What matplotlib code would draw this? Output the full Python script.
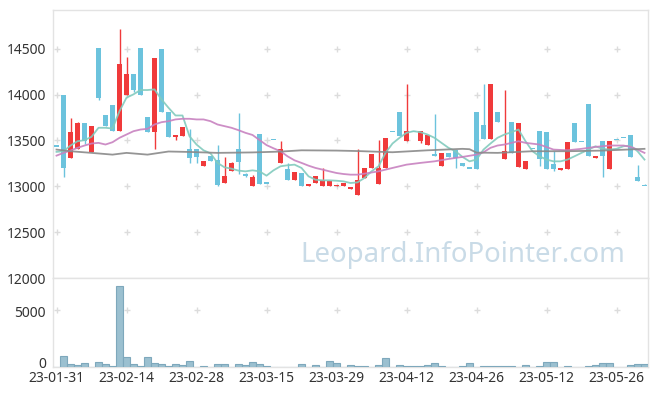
import numpy as np
import matplotlib
matplotlib.use("Agg")
import matplotlib.pyplot as plt
from matplotlib.transforms import ScaledTranslation

# ---------------- data ----------------
dates = [
    "23-01-31",
    "23-02-01", "23-02-02", "23-02-03", "23-02-06", "23-02-07", "23-02-08", "23-02-09", "23-02-10",
    "23-02-13", "23-02-14", "23-02-15", "23-02-16", "23-02-17", "23-02-20", "23-02-21", "23-02-22",
    "23-02-23", "23-02-24", "23-02-27", "23-02-28",
    "23-03-02", "23-03-03", "23-03-06", "23-03-07", "23-03-08", "23-03-09", "23-03-10", "23-03-13",
    "23-03-14", "23-03-15", "23-03-16", "23-03-17", "23-03-20", "23-03-21", "23-03-22", "23-03-23",
    "23-03-24", "23-03-27", "23-03-28", "23-03-29", "23-03-30", "23-03-31",
    "23-04-03", "23-04-04", "23-04-05", "23-04-06", "23-04-07", "23-04-10", "23-04-11", "23-04-12",
    "23-04-13", "23-04-14", "23-04-17", "23-04-18", "23-04-19", "23-04-20", "23-04-21", "23-04-24",
    "23-04-25", "23-04-26", "23-04-27", "23-04-28",
    "23-05-02", "23-05-03", "23-05-04", "23-05-08", "23-05-09", "23-05-10", "23-05-11", "23-05-12",
    "23-05-15", "23-05-16", "23-05-17", "23-05-18", "23-05-19", "23-05-22", "23-05-23", "23-05-24",
    "23-05-25", "23-05-26", "23-05-30", "23-05-31",
    "23-06-01", "23-06-02",
]

opens = [13440, 14000, 13310, 13410, 13690, 13370, 14510, 13780, 13890, 13600,
         14000, 14220, 14510, 13760, 13590, 14500, 13810, 13540, 13547, 13412,
         13412, 13219, 13335, 13284, 13033, 13164, 13412, 13130, 13008, 13575,
         13037, 13510, 13256, 13193, 13073, 13146, 13008, 13037, 13008, 13008,
         13000, 13008, 12971, 12902, 13095, 13204, 13030, 13197, 13600, 13805,
         13499, 13595, 13499, 13456, 13357, 13219, 13364, 13401, 13256, 13200,
         13810, 13663, 13521, 13808, 13303, 13703, 13208, 13193, 13410, 13608,
         13597, 13248, 13175, 13193, 13685, 13485, 13892, 13306, 13499, 13193,
         13510, 13529, 13565, 13103, 13011]
closes = [13440, 13200, 13590, 13690, 13490, 13660, 13960, 13655, 13600, 14330,
          14220, 14050, 14000, 13590, 14400, 13810, 13540, 13555, 13645, 13310,
          13317, 13273, 13273, 13011, 13117, 13256, 13262, 13110, 13106, 13030,
          13037, 13510, 13412, 13066, 13157, 13008, 13030, 13117, 13066, 13062,
          13019, 13037, 12989, 13073, 13204, 13357, 13204, 13529, 13600, 13546,
          13608, 13595, 13601, 13557, 13335, 13364, 13317, 13310, 13219, 13200,
          13193, 13521, 14111, 13699, 13390, 13364, 13685, 13281, 13410, 13303,
          13193, 13193, 13200, 13481, 13481, 13485, 13328, 13335, 13328, 13499,
          13510, 13529, 13317, 13062, 13011]
highs = [13440, 14000, 13740, 13700, 13690, 13660, 14510, 13780, 13890, 14710,
         14410, 14220, 14510, 13760, 14400, 14500, 13810, 13555, 13645, 13620,
         13412, 13273, 13335, 13456, 13317, 13270, 13802, 13150, 13128, 13575,
         13037, 13510, 13490, 13256, 13157, 13146, 13030, 13117, 13200, 13062,
         13019, 13037, 12995, 13412, 13204, 13357, 13510, 13529, 13600, 13805,
         14110, 13595, 13601, 13557, 13790, 13364, 13364, 13401, 13256, 13200,
         13810, 14110, 14111, 13808, 14050, 13703, 13685, 13281, 13410, 13608,
         13597, 13390, 13200, 13481, 13685, 13485, 13892, 13335, 13499, 13499,
         13510, 13529, 13565, 13237, 13027]
lows = [13440, 13100, 13310, 13410, 13467, 13370, 13940, 13655, 13600, 13600,
        14000, 14030, 14000, 13590, 13410, 13810, 13540, 13510, 13547, 13256,
        13256, 13219, 13273, 13000, 13033, 13164, 13139, 13100, 13008, 13030,
        13037, 13510, 13256, 13066, 13073, 13008, 13008, 13037, 13008, 13008,
        13000, 13008, 12971, 12902, 13095, 13204, 13030, 13197, 13600, 13546,
        13499, 13595, 13470, 13456, 13335, 13219, 13317, 13200, 13219, 13200,
        13193, 13521, 13521, 13699, 13303, 13364, 13208, 13193, 13410, 13226,
        13193, 13164, 13175, 13193, 13481, 13485, 13328, 13306, 13103, 13193,
        13510, 13529, 13317, 13062, 13011]

volumes = [0, 176, 9, 5, 18, 0, 28, 8, 1, 10000,
           144, 8, 1, 144, 18, 8, 1, 8, 5, 50,
           0, 1, 0, 8, 8, 0, 8, 5, 28, 8,
           1, 0, 0, 0, 0, 8, 0, 5, 0, 50,
           18, 0, 5, 1, 1, 0, 5, 116, 0, 5,
           1, 1, 1, 5, 18, 1, 0, 0, 1, 18,
           0, 1, 1, 1, 1, 1, 0, 5, 0, 1,
           28, 28, 0, 1, 0, 0, 1, 5, 18, 18,
           0, 0, 5, 8, 8]

ma5 = [13376, 13383, 13445, 13492, 13503, 13540, 13638, 13638, 13630, 13819,
       13966, 14002, 14049, 14049, 14056, 13947, 13856, 13772, 13772, 13546,
       13456, 13393, 13360, 13256, 13208, 13193, 13172, 13164, 13175, 13164,
       13117, 13175, 13219, 13230, 13237, 13201, 13110, 13073, 13066, 13066,
       13062, 13055, 13037, 13044, 13092, 13164, 13219, 13365, 13467, 13529,
       13583, 13601, 13590, 13565, 13529, 13474, 13420, 13383, 13321, 13273,
       13292, 13401, 13467, 13529, 13565, 13590, 13619, 13492, 13383, 13328,
       13292, 13273, 13273, 13292, 13328, 13365, 13401, 13437, 13409, 13401,
       13409, 13437, 13445, 13383, 13292]

ma20_idx = [0, 1, 2, 3, 4, 5, 6, 7, 8, 9, 10, 11, 12, 13, 14, 15, 16, 17, 18, 19,
            20, 21, 22, 23, 24, 25, 26, 27, 28, 29, 30, 31, 32, 33, 34, 35, 36, 37,
            38, 39, 40, 41, 42, 43, 44, 46, 48, 50, 52, 54, 56, 58, 60, 61, 62, 63,
            64, 66, 67, 69, 71, 73, 75, 77, 79, 81, 82, 83, 84]
ma20_val = [13335, 13365, 13390, 13420, 13445, 13467, 13474, 13456, 13481, 13529,
            13565, 13601, 13619, 13627, 13674, 13699, 13710, 13729, 13736, 13736,
            13729, 13729, 13710, 13674, 13656, 13638, 13612, 13583, 13560, 13505,
            13450, 13415, 13383, 13328, 13284, 13256, 13226, 13201, 13183, 13164,
            13146, 13135, 13128, 13128, 13139, 13164, 13201, 13237, 13256, 13273,
            13299, 13321, 13346, 13372, 13420, 13445, 13456, 13492, 13474, 13456,
            13401, 13393, 13409, 13430, 13445, 13445, 13430, 13401, 13365]

ma60_idx = [0, 2, 5, 8, 10, 13, 16, 19, 23, 28, 32, 35, 40, 43, 48, 53, 58, 59,
            60, 63, 68, 73, 78, 84]
ma60_val = [13401, 13383, 13365, 13346, 13365, 13346, 13380, 13375, 13365, 13370,
            13379, 13393, 13390, 13385, 13372, 13393, 13409, 13405, 13368, 13365,
            13383, 13383, 13390, 13409]

tick_idx = [0, 10, 20, 30, 40, 50, 60, 70, 80]
price_ticks = [12000, 12500, 13000, 13500, 14000, 14500]
vol_ticks = [0, 5000]
watermark = "Leopard.InfoPointer.com"

# ---------------- style ----------------
RED = "#F03A3B"
BLUE = "#6CC3DD"
GRID = "#dcdcdc"
SPINE = "#e3e3e3"
TXT = "#333333"
FONT = ["Noto Sans", "DejaVu Sans"]
plt.rcParams["font.family"] = FONT

W, H = 657, 396
fig = plt.figure(figsize=(W / 100, H / 100), dpi=100)
L, R = 53, 648
T1, B1, B2 = 10, 278.3, 366.7
ax = fig.add_axes([L / W, 1 - B1 / H, (R - L) / W, (B1 - T1) / H])
axv = fig.add_axes([L / W, 1 - B2 / H, (R - L) / W, (B2 - B1) / H])

n = len(dates)
x = np.arange(n)
o = np.array(opens, float)
c = np.array(closes, float)
hi = np.array(highs, float)
lo = np.array(lows, float)
cols = [RED if cc > oo else BLUE for oo, cc in zip(o, c)]

# wicks
ax.vlines(x, lo, hi, colors=cols, linewidth=1.0, zorder=2)
# bodies
minh = 12.0
body = np.abs(c - o)
h = np.maximum(body, minh)
bottom = np.minimum(o, c) - (h - body) / 2
ax.bar(x, h, bottom=bottom, width=0.68, color=cols, linewidth=0, zorder=3)

# moving averages
ax.plot(x, ma5, color="#82CBBE", lw=1.3, alpha=0.9, zorder=4)
ax.plot(ma20_idx, ma20_val, color="#C882C0", lw=1.3, alpha=0.9, zorder=4)
ax.plot(ma60_idx, ma60_val, color="#8a8a8a", lw=1.3, alpha=0.9, zorder=4)

ax.set_xlim(-0.5, n - 0.5)
ax.set_ylim(12000, 14920)
ax.set_yticks(price_ticks)
ax.set_yticklabels([str(t) for t in price_ticks])
ax.set_xticks([])
for yv in price_ticks[1:]:
    ax.plot(tick_idx, [yv] * len(tick_idx), ls="none", marker="+", ms=5,
            mew=1, color=GRID, zorder=1)

# volume
axv.set_yscale("function", functions=(lambda v: np.sqrt(np.clip(v, 0, None)),
                                      lambda v: np.square(v)))
axv.bar(x, volumes, width=0.95, color="#9BC0D0", edgecolor="#7EA8BC",
        linewidth=0.8, zorder=3)
axv.set_xlim(-0.5, n - 0.5)
axv.set_ylim(0, 12000)
axv.set_yticks(vol_ticks)
axv.set_yticklabels([str(t) for t in vol_ticks])
axv.set_xticks(tick_idx)
axv.set_xticklabels([dates[i] for i in tick_idx])
axv.plot(tick_idx, [5000] * len(tick_idx), ls="none", marker="+", ms=5,
         mew=1, color=GRID, zorder=1)

for a in (ax, axv):
    a.tick_params(length=0, labelsize=10, colors=TXT)
    a.tick_params(axis="y", pad=5)
    a.tick_params(axis="x", pad=3)
    for s in a.spines.values():
        s.set_color(SPINE)
        s.set_linewidth(1.0)
    a.set_facecolor("white")

# nudge the volume-axis labels as in the reference ("0" sits a little high)
vlabels = axv.get_yticklabels()
shifts = [4, -2]
for lbl, dy in zip(vlabels, shifts):
    lbl.set_transform(lbl.get_transform() +
                      ScaledTranslation(0, dy / 100, fig.dpi_scale_trans))

# watermark sized to its span in the reference
wm = fig.text(625 / W, 1 - 262.3 / H, watermark, ha="right", va="baseline",
              fontsize=22, color="#C9DBE7", family=FONT, zorder=0)
fig.canvas.draw()
bb = wm.get_window_extent()
wm.set_fontsize(22 * 325.0 / bb.width)

fig.savefig("out.png", dpi=100)
